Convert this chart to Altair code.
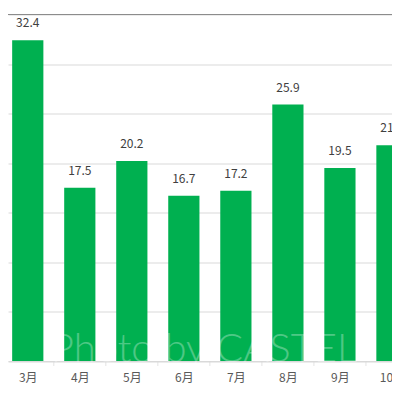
import altair as alt
import pandas as pd

months = ["3月", "4月", "5月", "6月", "7月", "8月", "9月", "10月"]
values = [32.4, 17.5, 20.2, 16.7, 17.2, 25.9, 19.5, 21.8]
y_ticks = [0, 5, 10, 15, 20, 25, 30, 35]
watermark = ["Photo by CASTEL"]

df = pd.DataFrame({"month": months, "value": values, "idx": list(range(len(months)))})
# category separators sit halfway between neighbouring months
sep_df = pd.DataFrame({"pos": [i - 0.5 for i in range(len(months) + 1)]})

FONT = "Noto Sans CJK JP"
GREEN = "#00B050"
GRID = "#d9d9d9"

x_scale = alt.Scale(domain=[-0.38, 7.001], nice=False, zero=False)
y_scale = alt.Scale(domain=[0, 35], nice=False, zero=True)

label_map = "{" + ",".join(f"'{i}':'{m}'" for i, m in enumerate(months)) + "}"

x_axis = alt.Axis(
    values=list(range(len(months))),
    labelExpr=f"{label_map}[''+datum.value]",
    labelOverlap=False,
    labelBound=False,
    labelFlush=False,
    labelFont=FONT,
    labelFontSize=12,
    labelColor="#595959",
    labelPadding=6,
    tickSize=5,
    tickOpacity=0,
    domainColor=GRID,
    grid=False,
    title=None,
)
y_axis = alt.Axis(
    values=y_ticks,
    labels=False,
    ticks=False,
    domain=False,
    grid=True,
    gridColor=GRID,
    gridWidth=1,
    title=None,
)

base = alt.Chart(df)

bars = (
    base.transform_calculate(x0="datum.idx - 0.3", x1="datum.idx + 0.3")
    .mark_bar(color=GREEN, clip=True)
    .encode(
        x=alt.X("x0:Q", scale=x_scale, axis=x_axis),
        x2="x1:Q",
        y=alt.Y("value:Q", scale=y_scale, axis=y_axis),
        y2=alt.datum(0),
    )
)

labels = base.mark_text(
    dy=-13, baseline="alphabetic", fontSize=12, font=FONT, color="#404040"
).encode(
    x=alt.X("idx:Q", scale=x_scale, axis=x_axis),
    y=alt.Y("value:Q", scale=y_scale, axis=y_axis),
    text=alt.Text("value:Q", format=".1f"),
)

seps = alt.Chart(sep_df).mark_tick(
    orient="vertical", size=5, yOffset=2.5, color=GRID, thickness=1
).encode(
    x=alt.X("pos:Q", scale=x_scale, axis=x_axis),
    y=alt.datum(0, scale=y_scale),
)

top_line = alt.Chart(pd.DataFrame({"v": [y_ticks[-1]]})).mark_rule(
    color="#8c8c8c", strokeWidth=1.2
).encode(y=alt.Y("v:Q", scale=y_scale, axis=y_axis))

wm = alt.Chart(pd.DataFrame({"t": watermark})).mark_text(
    font="Lato", fontSize=40, fontWeight=300, color="white", opacity=0.3,
    align="center", baseline="middle",
).encode(x=alt.value(196), y=alt.value(335), text="t:N")

chart = (
    alt.layer(bars, seps, top_line, labels, wm)
    .properties(
        width=384,
        height=346.5,
        padding={"left": 0, "top": 6.5, "right": 0, "bottom": 23},
        autosize=alt.AutoSizeParams(type="none"),
        background="white",
    )
    .configure_view(stroke=None)
)

chart.save("out.html", embed_options={"renderer": "svg", "actions": False})
